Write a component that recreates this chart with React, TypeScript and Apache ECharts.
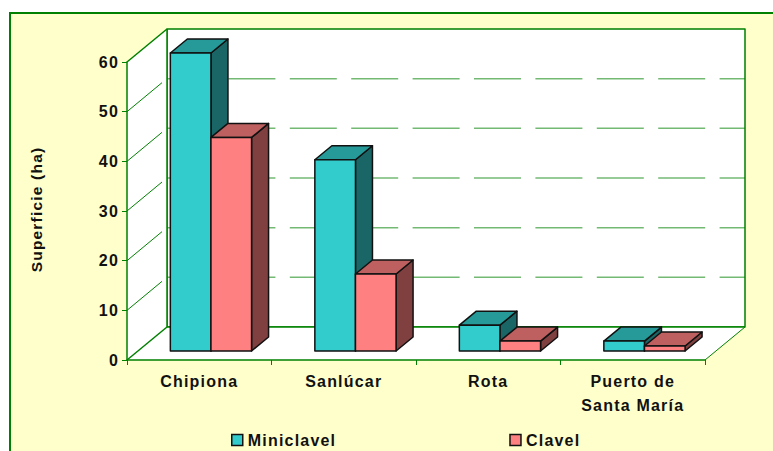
import React, { useEffect, useRef } from "react";
import * as echarts from "echarts";

const categories = ["Chipiona", "Sanlúcar", "Rota", "Puerto de\nSanta María"];
const miniclavel = [60, 38.5, 5.2, 2];
const clavel = [43, 15.5, 2, 1];
const yTicks = [10, 20, 30, 40, 50, 60];

const GREEN = "#008000";
const FONT = '"Liberation Sans", Arial, sans-serif';
const DX = 17;
const DY = 14;
const BASE_LIFT = 9;
const WALL_DX = 40;
const WALL_DY = 33;

function poly(points: number[][], fill: string, stroke = "#111", lineWidth = 1.5) {
  return {
    type: "polygon",
    shape: { points },
    style: { fill, stroke, lineWidth, lineJoin: "round" },
  };
}

function line(x1: number, y1: number, x2: number, y2: number, stroke: string, lineWidth: number, extra: any = {}) {
  return {
    type: "line",
    shape: { x1, y1, x2, y2 },
    style: { stroke, lineWidth, ...extra },
  };
}

function barRenderer(slot: number, front: string, top: string, side: string) {
  return (_params: any, api: any) => {
    const idx = api.value(0);
    const val = api.value(1);
    const [cx, y0] = api.coord([idx, 0]);
    const [, yv] = api.coord([idx, val]);
    const band = api.size([1, 0])[0];
    const w = band * 0.281;
    const x1 = cx - band * 0.2 + slot * w;
    const x2 = x1 + w;
    const yb = y0 - BASE_LIFT;
    const yt = yv - BASE_LIFT;
    return {
      type: "group",
      children: [
        poly([[x2, yb], [x2 + DX, yb - DY], [x2 + DX, yt - DY], [x2, yt]], side),
        poly([[x1, yt], [x1 + DX, yt - DY], [x2 + DX, yt - DY], [x2, yt]], top),
        poly([[x1, yb], [x2, yb], [x2, yt], [x1, yt]], front),
      ],
    };
  };
}

function wallRenderer(params: any, api: any) {
  const c = params.coordSys;
  const tick = api.value(0);
  const y = api.coord([0, tick])[1];
  const left = c.x;
  const right = c.x + c.width;
  const bottom = c.y + c.height;
  const children: any[] = [];
  if (params.dataIndex === 0) {
    const top = c.y;
    const bw = WALL_DX;
    const bh = WALL_DY;
    children.push(
      poly([[left + bw, top - bh], [right + bw, top - bh], [right + bw, bottom - bh], [left + bw, bottom - bh]], "#fff", GREEN, 1.5),
      poly([[left, top], [left + bw, top - bh], [left + bw, bottom - bh], [left, bottom]], "#fff", "none", 0),
      poly([[left, bottom], [left + bw, bottom - bh], [right + bw, bottom - bh], [right, bottom]], "#fff", "none", 0),
      line(left + bw, top - bh, left + bw, bottom - bh, GREEN, 1.5),
      line(left + bw, bottom - bh, right + bw, bottom - bh, GREEN, 1.5),
      line(left, bottom, left + bw, bottom - bh, GREEN, 1.5),
      line(right, bottom, right + bw, bottom - bh, GREEN, 1),
    );
  }
  if (tick === 60) {
    children.push(line(left, y, left + WALL_DX, y - WALL_DY, GREEN, 1.5));
  } else {
    children.push(
      line(left, y, left + WALL_DX - 5, y - WALL_DY + 4, GREEN, 1),
      {
        type: "line",
        shape: { x1: left + WALL_DX, y1: y - WALL_DY, x2: right + WALL_DX, y2: y - WALL_DY },
        style: { stroke: "#008000", opacity: 0.55, lineWidth: 1.5, lineDash: [47, 14.4] },
      },
    );
  }
  return { type: "group", children };
}

export default function App() {
  const ref = useRef<HTMLDivElement>(null);
  useEffect(() => {
    const chart = echarts.init(ref.current!, undefined, { renderer: "svg" });
    chart.setOption({
      animation: false,
      backgroundColor: "#fff",
      textStyle: { fontFamily: FONT },
      graphic: [
        {
          type: "rect",
          z: -10,
          shape: { x: 10, y: 13, width: 800, height: 480 },
          style: { fill: "#FFFFCC", stroke: GREEN, lineWidth: 2 },
        },
      ],
      legend: {
        left: 231,
        top: 432,
        padding: 0,
        itemWidth: 11,
        itemHeight: 11,
        itemGap: 185,
        icon: "rect",
        itemStyle: { borderColor: "#111", borderWidth: 1.5 },
        textStyle: { fontFamily: FONT, fontWeight: "bold", fontSize: 16, color: "#111" },
        data: ["Miniclavel", "Clavel"],
      },
      grid: { left: 127, top: 62, width: 578, height: 298, show: false },
      xAxis: {
        type: "category",
        data: categories,
        z: 5,
        axisLine: { show: true, lineStyle: { color: GREEN, width: 1.5 } },
        axisTick: { show: true, length: 5, lineStyle: { color: GREEN, width: 1 } },
        splitLine: { show: false },
        axisLabel: {
          interval: 0,
          margin: 9,
          color: "#111",
          fontFamily: FONT,
          fontWeight: "bold",
          fontSize: 16,
          lineHeight: 24,
        },
      },
      yAxis: {
        type: "value",
        min: 0,
        max: 60,
        interval: 10,
        z: 5,
        name: "Superficie (ha)",
        nameLocation: "middle",
        nameGap: 83,
        nameTextStyle: { color: "#111", fontFamily: FONT, fontWeight: "bold", fontSize: 15.5, padding: [0, 0, 0, 3] },
        axisLine: { show: true, lineStyle: { color: GREEN, width: 1.5 } },
        axisTick: { show: true, length: 5, lineStyle: { color: GREEN, width: 1 } },
        splitLine: { show: false },
        axisLabel: { margin: 8, color: "#111", fontFamily: FONT, fontWeight: "bold", fontSize: 16 },
      },
      series: [
        {
          type: "custom",
          name: "walls",
          z: 1,
          silent: true,
          encode: { y: 0 },
          data: yTicks.map((t) => [t]),
          renderItem: wallRenderer,
        },
        {
          type: "custom",
          name: "Miniclavel",
          z: 3,
          itemStyle: { color: "#33CCCC" },
          encode: { x: 0, y: 1 },
          data: miniclavel.map((v, i) => [i, v]),
          renderItem: barRenderer(0, "#33CCCC", "#269999", "#1A6666"),
        },
        {
          type: "custom",
          name: "Clavel",
          z: 4,
          itemStyle: { color: "#FF8080" },
          encode: { x: 0, y: 1 },
          data: clavel.map((v, i) => [i, v]),
          renderItem: barRenderer(1, "#FF8080", "#BF6060", "#804040"),
        },
      ],
    });
    return () => chart.dispose();
  }, []);
  return (
    <>
      <style>{`#chart text { letter-spacing: 1.2px; }`}</style>
      <div id="chart" ref={ref} style={{ position: "fixed", left: 0, top: 0, width: 773, height: 451 }} />
    </>
  );
}
